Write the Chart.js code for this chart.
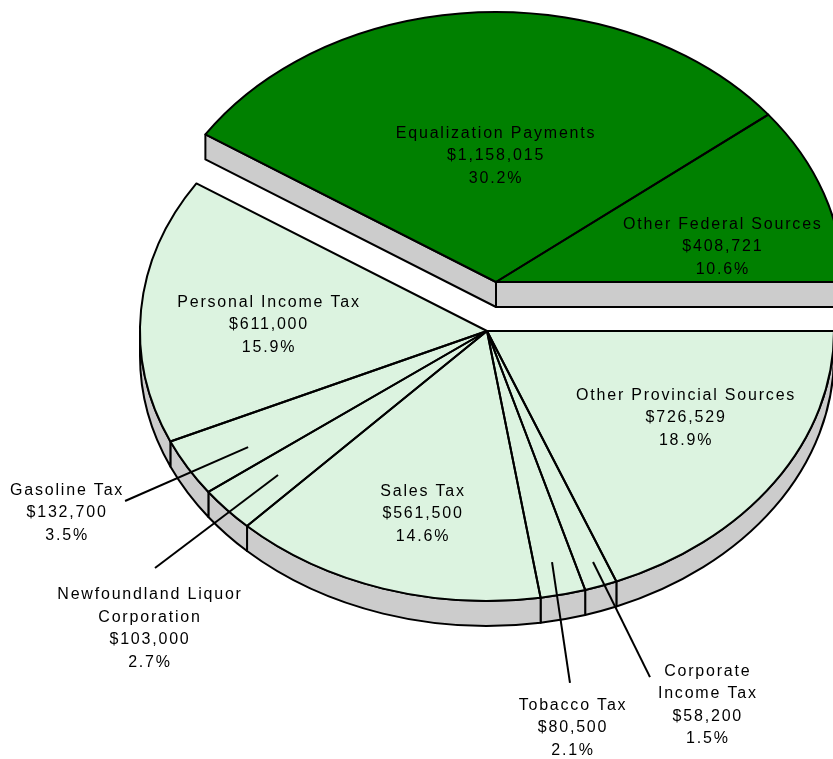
<!DOCTYPE html>
<html>
<head>
<meta charset="utf-8">
<script src="https://cdn.jsdelivr.net/npm/chart.js@4.4.0/dist/chart.umd.min.js"></script>
<style>
  html, body { margin: 0; padding: 0; background: #fff; }
</style>
</head>
<body>
<canvas id="chart" width="833" height="759"></canvas>
<script>
// revenue sources, clockwise from 3 o'clock
var categories = ['Other Provincial Sources', ['Corporate', 'Income Tax'], 'Tobacco Tax', 'Sales Tax',
  ['Newfoundland Liquor', 'Corporation'], 'Gasoline Tax', 'Personal Income Tax',
  'Equalization Payments', 'Other Federal Sources'];
var amounts = [726529, 58200, 80500, 561500, 103000, 132700, 611000, 1158015, 408721];
var sources = ['provincial', 'provincial', 'provincial', 'provincial', 'provincial',
  'provincial', 'provincial', 'federal', 'federal'];

// pie geometry (screen px)
var CX = 487, CY = 331, RX = 347, RY = 270, DEPTH = 25;
var K = RY / RX;
var fedShift = [9, -49];
var fillColors = { provincial: '#dcf3e0', federal: '#008000' };
var sideColor = '#cccccc';

// label anchors as fractions of the rim along each slice's mid angle [fx, fy]
var labelAt = [[0.689, 0.575], [1.93, 1.467], [1.118, 1.507], [0.625, 0.71], [1.299, 1.666],
  [1.406, 1.333], [0.633, 0.284], [0.06, 0.467], [0.689, 0.395]];
// leader lines for the thin slices [inner fx, fy, outer fx, fy]
var leaders = [null, [0.931, 0.906, 1.431, 1.357], [0.855, 0.877, 1.091, 1.336], null,
  [0.803, 0.806, 1.276, 1.327], [0.798, 0.85, 1.209, 1.245], null, null, null];

var total = amounts.reduce(function(a, b) { return a + b; }, 0);

function centerOf(i) {
  if (sources[i] === 'federal') return [CX + fedShift[0], CY + fedShift[1]];
  return [CX, CY];
}

function rim(c, a, fx, fy) {
  return [c[0] + fx * RX * Math.cos(a), c[1] + fy * RY * Math.sin(a)];
}

function face(ctx, c, a) {
  var p = rim(c, a, 1, 1);
  ctx.beginPath();
  ctx.moveTo(c[0], c[1]);
  ctx.lineTo(p[0], p[1]);
  ctx.lineTo(p[0], p[1] + DEPTH);
  ctx.lineTo(c[0], c[1] + DEPTH);
  ctx.closePath();
  ctx.fill();
  ctx.stroke();
}

function wall(ctx, c, a0, a1) {
  ctx.beginPath();
  ctx.ellipse(c[0], c[1], RX, RY, 0, a0, a1);
  ctx.ellipse(c[0], c[1] + DEPTH, RX, RY, 0, a1, a0, true);
  ctx.closePath();
  ctx.fill();
  ctx.stroke();
}

function drawSides(ctx, arcs) {
  var idx = arcs.map(function(a, i) { return i; });
  idx.sort(function(a, b) { return centerOf(a)[1] - centerOf(b)[1]; });
  ctx.save();
  ctx.fillStyle = sideColor;
  ctx.strokeStyle = '#000';
  ctx.lineWidth = 2;
  ctx.lineJoin = 'round';
  idx.forEach(function(i) {
    var arc = arcs[i], c = centerOf(i), n = arcs.length;
    var first = sources[(i - 1 + n) % n] !== sources[i];
    var last = sources[(i + 1) % n] !== sources[i];
    if (first && Math.cos(arc.startAngle) < -0.001) face(ctx, c, arc.startAngle);
    if (last && Math.cos(arc.endAngle) > 0.001) face(ctx, c, arc.endAngle);
    var a0 = Math.max(arc.startAngle, 0), a1 = Math.min(arc.endAngle, Math.PI);
    if (a1 > a0) wall(ctx, c, a0, a1);
  });
  ctx.restore();
}

function drawTops(ctx, arcs) {
  ctx.save();
  ctx.strokeStyle = '#000';
  ctx.lineWidth = 2;
  ctx.lineJoin = 'round';
  arcs.forEach(function(arc, i) {
    var c = centerOf(i), p = rim(c, arc.startAngle, 1, 1);
    ctx.beginPath();
    ctx.moveTo(c[0], c[1]);
    ctx.lineTo(p[0], p[1]);
    ctx.ellipse(c[0], c[1], RX, RY, 0, arc.startAngle, arc.endAngle);
    ctx.closePath();
    ctx.stroke();
  });
  ctx.restore();
}

function drawLabels(ctx, arcs) {
  ctx.save();
  ctx.font = '16px "Liberation Sans", Arial, sans-serif';
  ctx.letterSpacing = '1.8px';
  ctx.fillStyle = '#000';
  ctx.textAlign = 'center';
  ctx.textBaseline = 'middle';
  ctx.strokeStyle = '#000';
  ctx.lineWidth = 2;
  var lh = 22.5;
  arcs.forEach(function(arc, i) {
    var c = centerOf(i), mid = (arc.startAngle + arc.endAngle) / 2;
    var ld = leaders[i];
    if (ld) {
      var p0 = rim(c, mid, ld[0], ld[1]), p1 = rim(c, mid, ld[2], ld[3]);
      ctx.beginPath();
      ctx.moveTo(p0[0], p0[1]);
      ctx.lineTo(p1[0], p1[1]);
      ctx.stroke();
    }
    var name = [].concat(categories[i]);
    var lines = name.concat(['$' + amounts[i].toLocaleString('en-US'),
      (amounts[i] / total * 100).toFixed(1) + '%']);
    var p = rim(c, mid, labelAt[i][0], labelAt[i][1]);
    var y0 = p[1] - (lines.length - 1) * lh / 2;
    lines.forEach(function(t, j) {
      ctx.fillText(t, p[0] + 1, y0 + j * lh);
    });
  });
  ctx.restore();
}

var pie3d = {
  id: 'pie3d',
  afterDatasetsUpdate: function(chart) {
    chart.getDatasetMeta(0).data.forEach(function(arc, i) {
      var c = centerOf(i);
      arc.x = c[0];
      arc.y = c[1] / K;
      arc.outerRadius = RX;
      arc.innerRadius = 0;
    });
  },
  beforeDatasetsDraw: function(chart) {
    var ctx = chart.ctx;
    drawSides(ctx, chart.getDatasetMeta(0).data);
    ctx.save();
    ctx.scale(1, K);
  },
  afterDatasetsDraw: function(chart) {
    var ctx = chart.ctx;
    ctx.restore();
    var arcs = chart.getDatasetMeta(0).data;
    drawTops(ctx, arcs);
    drawLabels(ctx, arcs);
  }
};

new Chart(document.getElementById('chart'), {
  type: 'pie',
  data: {
    labels: categories,
    datasets: [{
      data: amounts,
      backgroundColor: sources.map(function(s) { return fillColors[s]; }),
      borderWidth: 0,
      clip: false
    }]
  },
  options: {
    responsive: false,
    animation: false,
    events: [],
    rotation: 90,
    radius: RX,
    plugins: {
      legend: { display: false },
      tooltip: { enabled: false }
    }
  },
  plugins: [pie3d]
});
</script>
</body>
</html>
